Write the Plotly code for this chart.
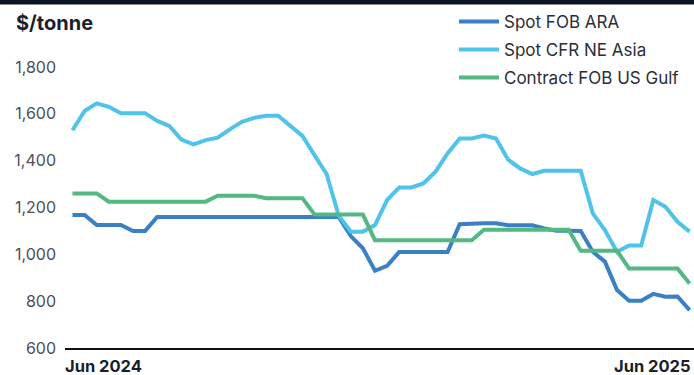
import plotly.graph_objects as go
import pandas as pd

weeks = pd.date_range("2024-06-14", periods=52, freq="7D")

spot_fob_ara = [1168, 1168, 1125, 1125, 1125, 1100, 1100,
                1160, 1160, 1160, 1160, 1160, 1160, 1160, 1160,
                1160, 1160, 1160, 1160, 1160, 1160, 1160, 1160,
                1078, 1026, 930, 951, 1010, 1010, 1010, 1010, 1010,
                1129, 1133, 1133, 1133, 1124, 1124, 1124, 1111, 1101, 1101, 1100,
                1011, 969, 848, 802, 802, 831, 819, 820, 762]

spot_cfr_ne_asia = [1530, 1612, 1645, 1630, 1603, 1603, 1603, 1570, 1548, 1490,
                    1470, 1488, 1498, 1534, 1566, 1583, 1592, 1592, 1548, 1506,
                    1424, 1343, 1165, 1097, 1097, 1125, 1232, 1286, 1286, 1303,
                    1353, 1431, 1495, 1495, 1507, 1495, 1404, 1367, 1343, 1357,
                    1357, 1357, 1357, 1175, 1104, 1011, 1038, 1038, 1232, 1203,
                    1139, 1097]

contract_fob_us_gulf = ([1260] * 3 + [1225] * 9 + [1250] * 4 + [1240] * 4 +
                        [1170] * 5 + [1060] * 9 + [1105] * 8 + [1015] * 4 +
                        [940] * 5 + [875])

series_names = ["Spot FOB ARA", "Spot CFR NE Asia", "Contract FOB US Gulf"]
series_values = [spot_fob_ara, spot_cfr_ne_asia, contract_fob_us_gulf]
series_colors = ["#3b7fc4", "#4fc3e9", "#53b884"]

y_ticks = [600, 800, 1000, 1200, 1400, 1600, 1800]
x_tick_labels = ["Jun 2024", "Jun 2025"]

FONT = "Inter, Roboto, sans-serif"

W, H = 694, 375
ML, MR, MT, MB = 65, 0, 60, 27
PW, PH = W - ML - MR, H - MT - MB

def px_x(px):
    return (px - ML) / PW

def px_y(py):
    return 1 + (MT - py) / PH

fig = go.Figure()
legend_names = ["legend", "legend2", "legend3"]
for name, vals, col, lg in zip(series_names, series_values, series_colors, legend_names):
    fig.add_trace(go.Scatter(x=weeks, y=vals, mode="lines", name=name,
                             line=dict(color=col, width=4), legend=lg))

day_px = 12.1 / 7
x_start = weeks[0] - pd.Timedelta(days=7.5 / day_px)
x_end = weeks[-1] + pd.Timedelta(days=4.4 / day_px)

legend_rows = [22, 50, 78]
legend_common = dict(xanchor="left", yanchor="middle", bgcolor="rgba(0,0,0,0)",
                     font=dict(family=FONT, size=17, color="#2a2e38"),
                     itemwidth=40, borderwidth=0)

fig.update_layout(
    width=W, height=H,
    margin=dict(l=ML, r=MR, t=MT, b=MB),
    paper_bgcolor="white", plot_bgcolor="white",
    showlegend=True,
    legend=dict(x=px_x(454), y=px_y(legend_rows[0]), **legend_common),
    legend2=dict(x=px_x(454), y=px_y(legend_rows[1]), **legend_common),
    legend3=dict(x=px_x(454), y=px_y(legend_rows[2]), **legend_common),
    xaxis=dict(range=[x_start, x_end], showgrid=False, zeroline=False,
               showticklabels=False, ticks="", showline=True,
               linecolor="#111111", linewidth=1.5),
    yaxis=dict(range=[600, 1830], tickvals=y_ticks, tickformat=",",
               showgrid=False, zeroline=False, showline=False, ticks="",
               ticklabelstandoff=8,
               tickfont=dict(family=FONT, size=16, color="#4a4f5a")),
    shapes=[dict(type="rect", xref="paper", yref="paper",
                 x0=px_x(0), x1=1, y0=px_y(4.5), y1=px_y(0),
                 fillcolor="#0b1526", line=dict(width=0), layer="above")],
    annotations=[
        dict(text="$/tonne", xref="paper", yref="paper", x=px_x(14), y=px_y(23),
             xanchor="left", yanchor="middle", showarrow=False,
             font=dict(family=FONT, size=20, color="#1a1f2b", weight="bold")),
        dict(text=x_tick_labels[0], xref="paper", yref="paper", x=px_x(63), y=px_y(366),
             xanchor="left", yanchor="middle", showarrow=False,
             font=dict(family=FONT, size=16.5, color="#1a1f2b", weight="bold")),
        dict(text=x_tick_labels[1], xref="paper", yref="paper", x=px_x(693), y=px_y(366),
             xanchor="right", yanchor="middle", showarrow=False,
             font=dict(family=FONT, size=16.5, color="#1a1f2b", weight="bold")),
    ],
)

fig.write_html("out.html")
